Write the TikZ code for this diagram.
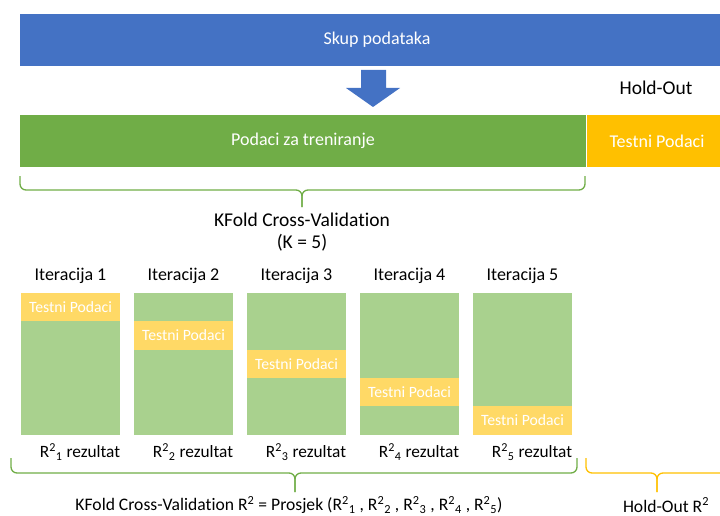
\documentclass[tikz,border=0pt]{standalone}
\usepackage{fontspec}
\setmainfont{Carlito}[Ligatures=NoCommon]
\definecolor{skupblue}{HTML}{4472C4}
\definecolor{trengreen}{HTML}{70AD47}
\definecolor{testorange}{HTML}{FFC000}
\definecolor{foldgreen}{HTML}{A9D18E}
\definecolor{foldorange}{HTML}{FFD966}

\begin{document}
\begin{tikzpicture}[x=1pt, y=-1pt, font=\fontsize{18}{21}\selectfont,
  bartext/.style={text=white, inner sep=0pt},
  big/.style={font=\fontsize{19.5}{22}\selectfont},
  small/.style={font=\fontsize{15.7}{18}\selectfont},
  curly/.style={rounded corners=6pt, line width=1.3pt}]
\useasboundingbox (0,0) rectangle (720,516); % fix page size
\fill[skupblue] (20,14) rectangle (720,66);
\node[bartext] (skup) at (377,40) {Skup podataka};
\fill[skupblue] (361,70) -- (386,70) -- (386,88) -- (400,88) -- (373,107)
                -- (346,88) -- (361,88) -- cycle;
\node[big] (holdout) at (656,88) {Hold-Out};
\fill[trengreen] (20,115) rectangle (585.5,167);
\fill[testorange] (587,115) rectangle (720,167);
\node[bartext] (trening) at (303,141) {Podaci za treniranje};
\node[bartext] (testni) at (657,141) {Testni Podaci};
\draw[trengreen, curly] (20,176) |- (302,190) -- (302,207);
\draw[trengreen, curly] (585,176) |- (302,190) -- (302,207);
\node[big] (kfold) at (302,220) {KFold Cross-Validation};
\node[big] (kbroj) at (302,243) {(K = 5)};
% folds
\foreach \i in {1,...,5} {
  \pgfmathsetmacro{\xl}{21+(\i-1)*113}
  \pgfmathsetmacro{\yt}{293+(\i-1)*28.3}
  \fill[foldgreen] (\xl,293) rectangle ++(99,141.5);
  \fill[foldorange] (\xl,\yt) rectangle ++(99,28.3);
  \node[bartext, small] (test\i) at (\xl+49.5,\yt+14.2) {Testni Podaci};
  \node (iter\i) at (\xl+49.5,276) {Iteracija \i};
  \node[font=\fontsize{17.3}{20}\selectfont] (rez\i) at (\xl+59,452)
    {R\textsuperscript{2}\textsubscript{\i} rezultat};
}
\draw[trengreen, curly] (11,458) |- (295,473) -- (295,492);
\draw[trengreen, curly] (577,458) |- (295,473) -- (295,492);
\draw[testorange, curly] (586,458) |- (657,473) -- (657,492);
\draw[testorange, curly] (730,458) |- (657,473) -- (657,492);
\node[font=\fontsize{17.6}{20}\selectfont] (prosjek) at (289,505)
  {KFold Cross-Validation R\textsuperscript{2} = Prosjek
  (R\textsuperscript{2}\textsubscript{1} , R\textsuperscript{2}\textsubscript{2} ,
  R\textsuperscript{2}\textsubscript{3} , R\textsuperscript{2}\textsubscript{4} ,
  R\textsuperscript{2}\textsubscript{5})};
\node[font=\fontsize{17.6}{20}\selectfont] (holdr) at (666,505)
  {Hold-Out R\textsuperscript{2}};
\end{tikzpicture}
\end{document}
